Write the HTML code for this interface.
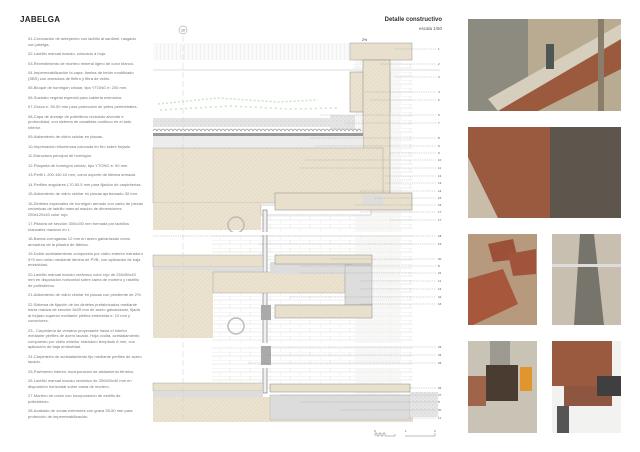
<!DOCTYPE html>
<html><head><meta charset="utf-8"><style>
body{margin:0;background:#fff;}
#p{position:relative;width:640px;height:452px;overflow:hidden;background:#fff;font-family:"Liberation Sans",sans-serif;}
.t{position:absolute;left:28px;top:36px;width:115px;font-size:4px;line-height:5.5px;color:#777;}
.t p{margin:0 0 4px 0;}
.ph{position:absolute;}
</style></head><body><div id="p">
<div style="position:absolute;left:20px;top:15px;font-size:8px;font-weight:bold;letter-spacing:0.3px;color:#222">JABELGA</div>
<div style="position:absolute;right:198px;top:17px;font-size:6px;font-weight:bold;color:#333">Detalle constructivo</div>
<div style="position:absolute;right:198px;top:26px;font-size:4.5px;color:#555">escala 1/50</div>
<div class="t">
<p>01-Coronación de antepecho con ladrillo al sardinel, rasgado con jabelga.</p>
<p>02-Ladrillo manual macizo, colocado a hoja.</p>
<p>03-Revestimiento de mortero mineral ligero de color blanco.</p>
<p>04-Impermeabilización bi-capa: lámina de betún modificado (SBS) con armadura de fieltro y fibra de vidrio.</p>
<p>05-Bloque de hormigón celular, tipo YTONG e: 200 mm.</p>
<p>06-Sustrato vegetal especial para cubierta extensiva.</p>
<p>07-Grava e: 35-50 mm para protección de petos perimetrales.</p>
<p>08-Capa de drenaje de polietileno reciclado alveolar e profundidad, con sistema de canaletas continuo en el lado interior.</p>
<p>09-Aislamiento de vidrio celular en placas.</p>
<p>10-Imprimación bituminosa colocada en frío sobre forjado.</p>
<p>11-Estructura principal de hormigón.</p>
<p>12-Plaqueta de hormigón celular, tipo YTONG e: 50 mm.</p>
<p>13-Perfil L 200.150.10 mm, como soporte de fábrica armada.</p>
<p>14-Perfiles angulares L70.50.5 mm para fijación de carpinterías.</p>
<p>15-Aislamiento de vidrio celular en placas aprisionado 30 mm.</p>
<p>16-Dinteles especiales de hormigón armado con canto de piezas cerámicas de ladrillo manual macizo de dimensiones 250x120x40 color rojo.</p>
<p>17-Pilastra de sección 300x150 mm formada por ladrillos manuales macizos en L.</p>
<p>18-Barras corrugadas 12 mm en acero galvanizado como armadura de la pilastra de fábrica.</p>
<p>19-Doble acristalamiento compuesto por vidrio exterior estradoro 5+5 mm unido mediante lámina de PVB, con aplicación de baja emisividad.</p>
<p>20-Ladrillo manual macizo cerámico color rojo de 250x50x40 mm en disposición horizontal sobre cama de mortero y rastrillo de poliestireno.</p>
<p>21-Aislamiento de vidrio celular en placas con pendiente de 2%.</p>
<p>22-Sistema de fijación de los dinteles prefabricados mediante barra maciza de sección 8x25 mm de acero galvanizado, fijada al forjado superior mediante pletina embebida e: 10 mm y conectores.</p>
<p>23.- Carpintería de ventana proyectante hacia el interior mediante perfiles de acero lacado. Hoja oculta, acristalamiento compuesto por vidrio exterior estradoro templado 6 mm, con aplicación de baja emisividad.</p>
<p>24-Carpintería de acristalamiento fijo mediante perfiles de acero lacado.</p>
<p>25-Pavimento interior, incorporación de aislamiento térmico.</p>
<p>26-Ladrillo manual macizo cerámico de 250x50x40 mm en disposición horizontal sobre cama de mortero.</p>
<p>27-Mortero de unión con incorporación de estrillo de poliestireno.</p>
<p>28-Acabado de zonas exteriores con grava 35-50 mm para protección de impermeabilización.</p>
</div>
<svg style="position:absolute;left:0;top:0" width="640" height="452" viewBox="0 0 640 452">
<defs>
<pattern id="h" width="3" height="3" patternUnits="userSpaceOnUse" patternTransform="rotate(45)"><rect width="3" height="3" fill="#ebe3d0"/><line x1="0" y1="0" x2="0" y2="3" stroke="#d6ccb4" stroke-width="0.6"/></pattern>
<pattern id="br" width="20" height="8" patternUnits="userSpaceOnUse"><rect width="20" height="8" fill="#fff"/><path d="M0 0H20M0 4H20M10 0V4M0 4V8" stroke="#dedede" stroke-width="0.5" fill="none"/></pattern>
<pattern id="bs" width="4" height="10" patternUnits="userSpaceOnUse"><rect width="4" height="10" fill="#fafafa"/><line x1="0" y1="0" x2="0" y2="10" stroke="#ddd" stroke-width="0.6"/></pattern>
<pattern id="gv" width="4" height="4" patternUnits="userSpaceOnUse"><rect width="4" height="4" fill="#e6e6e6"/><circle cx="1" cy="1" r="0.5" fill="#bbb"/><circle cx="3" cy="3" r="0.4" fill="#c8c8c8"/></pattern>
</defs>
<rect x="212" y="210" width="200" height="180" fill="url(#br)"/>
<rect x="353" y="60" width="60" height="335" fill="url(#br)"/>
<rect x="355" y="60" width="45" height="335" fill="#f4f4f2" opacity="0.6"/>
<rect x="153" y="43" width="197" height="17" fill="url(#bs)"/>
<rect x="350" y="43" width="62" height="17" fill="#e8e0cc" stroke="#999" stroke-width="0.5"/>
<line x1="153" y1="70" x2="440" y2="70" stroke="#eee" stroke-width="2"/>
<rect x="350" y="72" width="40" height="40" fill="url(#h)" stroke="#888" stroke-width="0.5"/>
<rect x="363" y="60" width="27" height="135" fill="url(#h)" stroke="#888" stroke-width="0.5"/>
<path d="M158 104l60 -6 60 4 40 -2" stroke="#aed09a" stroke-width="1.5" stroke-dasharray="2 2" fill="none" opacity="0.6"/>
<path d="M160 110l70 -4 60 3 50 -1" stroke="#aed09a" stroke-width="1.5" stroke-dasharray="2 3" fill="none" opacity="0.6"/>
<rect x="153" y="118" width="177" height="9" fill="url(#gv)"/>
<rect x="330" y="115" width="25" height="14" fill="url(#gv)"/>
<path d="M153 131 q2 -4 4 0 q2 -4 4 0 q2 -4 4 0 q2 -4 4 0 q2 -4 4 0 q2 -4 4 0 q2 -4 4 0 q2 -4 4 0 q2 -4 4 0 q2 -4 4 0 q2 -4 4 0 q2 -4 4 0 q2 -4 4 0 q2 -4 4 0 q2 -4 4 0 q2 -4 4 0 q2 -4 4 0 q2 -4 4 0 q2 -4 4 0 q2 -4 4 0 q2 -4 4 0 q2 -4 4 0 q2 -4 4 0 q2 -4 4 0 q2 -4 4 0 q2 -4 4 0 q2 -4 4 0 q2 -4 4 0 q2 -4 4 0 q2 -4 4 0 q2 -4 4 0 q2 -4 4 0 q2 -4 4 0 q2 -4 4 0 q2 -4 4 0 q2 -4 4 0 q2 -4 4 0 q2 -4 4 0 q2 -4 4 0 q2 -4 4 0 q2 -4 4 0 q2 -4 4 0 q2 -4 4 0 q2 -4 4 0 q2 -4 4 0 q2 -4 4 0 q2 -4 4 0 q2 -4 4 0 q2 -4 4 0 q2 -4 4 0 q2 -4 4 0 q2 -4 4 0" stroke="#777" stroke-width="0.6" fill="none"/>
<rect x="153" y="133" width="210" height="3" fill="#999"/>
<rect x="153" y="136" width="210" height="12" fill="#ececec"/>
<rect x="153" y="148" width="230" height="55" fill="url(#h)" stroke="#999" stroke-width="0.4"/>
<rect x="153" y="203" width="108" height="27" fill="url(#h)"/>
<rect x="261" y="205" width="110" height="10" fill="#fff" stroke="#999" stroke-width="0.4"/>
<rect x="275" y="193" width="137" height="17" fill="#e8e0cc" stroke="#888" stroke-width="0.5"/>
<rect x="363" y="195" width="20" height="10" fill="#ddd"/>
<rect x="263" y="210" width="4" height="183" fill="#f0f0f0" stroke="#555" stroke-width="0.5"/>
<circle cx="236" cy="225" r="8" fill="none" stroke="#bbb" stroke-width="1.5"/>
<circle cx="236" cy="326" r="8" fill="none" stroke="#bbb" stroke-width="1.5"/>
<rect x="153" y="255" width="110" height="12" fill="#e8e0cc" stroke="#999" stroke-width="0.4"/>
<rect x="153" y="267" width="110" height="5" fill="#ddd"/>
<rect x="153" y="270" width="60" height="68" fill="url(#h)"/>
<rect x="213" y="272" width="132" height="21" fill="url(#h)" stroke="#999" stroke-width="0.4"/>
<rect x="270" y="262" width="82" height="12" fill="#ddd"/>
<rect x="275" y="255" width="97" height="9" fill="#e8e0cc" stroke="#888" stroke-width="0.5"/>
<rect x="345" y="265" width="27" height="40" fill="#ddd" stroke="#999" stroke-width="0.4"/>
<rect x="275" y="305" width="97" height="13" fill="#e8e0cc" stroke="#888" stroke-width="0.5"/>
<rect x="261" y="345" width="10" height="20" fill="#aaa"/>
<rect x="261" y="305" width="10" height="15" fill="#aaa"/>
<rect x="153" y="383" width="110" height="8" fill="#e8e0cc" stroke="#999" stroke-width="0.4"/>
<rect x="153" y="391" width="110" height="6" fill="#ddd"/>
<rect x="153" y="397" width="260" height="25" fill="url(#h)"/>
<rect x="270" y="384" width="140" height="8" fill="#e8e0cc" stroke="#888" stroke-width="0.5"/>
<rect x="270" y="395" width="140" height="25" fill="#dcdcdc" stroke="#aaa" stroke-width="0.4"/>
<rect x="410" y="392" width="28" height="25" fill="url(#gv)"/>
<rect x="153" y="232" width="288" height="3" fill="#fff"/>
<rect x="153" y="343" width="288" height="3" fill="#fff"/>
<rect x="153" y="365" width="288" height="3" fill="#fff"/>
<line x1="183" y1="36" x2="183" y2="420" stroke="#ccc" stroke-width="0.5" stroke-dasharray="6 3"/>
<circle cx="183" cy="30" r="4" fill="#fff" stroke="#888" stroke-width="0.5"/>
<text x="183" y="31.5" font-size="3.5" text-anchor="middle" fill="#555">10</text>
<text x="362" y="41" font-size="3.5" fill="#333">2%</text>
<g stroke="#888" stroke-width="0.35" stroke-dasharray="1 0.8">
<line x1="395" y1="49" x2="436" y2="49"/><line x1="380" y1="64" x2="436" y2="64"/><line x1="395" y1="77" x2="436" y2="77"/><line x1="365" y1="92" x2="436" y2="92"/><line x1="370" y1="100" x2="436" y2="100"/><line x1="320" y1="115" x2="436" y2="115"/><line x1="345" y1="123" x2="436" y2="123"/><line x1="310" y1="138" x2="436" y2="138"/><line x1="315" y1="146" x2="436" y2="146"/><line x1="390" y1="153" x2="436" y2="153"/><line x1="305" y1="160" x2="436" y2="160"/><line x1="300" y1="168" x2="436" y2="168"/><line x1="385" y1="176" x2="436" y2="176"/><line x1="385" y1="183" x2="436" y2="183"/><line x1="360" y1="191" x2="436" y2="191"/><line x1="375" y1="198" x2="436" y2="198"/><line x1="355" y1="205" x2="436" y2="205"/><line x1="360" y1="212" x2="436" y2="212"/>
<line x1="390" y1="220" x2="436" y2="220"/><line x1="153" y1="236" x2="436" y2="236"/><line x1="258" y1="244" x2="436" y2="244"/><line x1="330" y1="259" x2="436" y2="259"/><line x1="300" y1="266" x2="436" y2="266"/><line x1="300" y1="273" x2="436" y2="273"/><line x1="360" y1="281" x2="436" y2="281"/><line x1="360" y1="289" x2="436" y2="289"/><line x1="290" y1="297" x2="436" y2="297"/><line x1="360" y1="304" x2="436" y2="304"/><line x1="265" y1="347" x2="436" y2="347"/><line x1="265" y1="355" x2="436" y2="355"/><line x1="248" y1="363" x2="436" y2="363"/><line x1="410" y1="388" x2="436" y2="388"/><line x1="280" y1="395" x2="436" y2="395"/><line x1="300" y1="402" x2="436" y2="402"/><line x1="340" y1="410" x2="436" y2="410"/><line x1="410" y1="418" x2="436" y2="418"/>
</g>
<g font-size="3" fill="#555">
<text x="438" y="50">1</text><text x="438" y="65">2</text><text x="438" y="78">3</text><text x="438" y="93">4</text><text x="438" y="101">5</text><text x="438" y="116">6</text><text x="438" y="124">7</text><text x="438" y="139">8</text><text x="438" y="147">9</text><text x="438" y="154">9</text><text x="438" y="161">10</text><text x="438" y="169">11</text><text x="438" y="177">12</text><text x="438" y="184">13</text><text x="438" y="192">14</text><text x="438" y="199">15</text><text x="438" y="206">16</text><text x="438" y="213">17</text>
<text x="438" y="221">17</text><text x="438" y="237">18</text><text x="438" y="245">19</text><text x="438" y="260">20</text><text x="438" y="267">8</text><text x="438" y="274">21</text><text x="438" y="282">11</text><text x="438" y="290">12</text><text x="438" y="298">22</text><text x="438" y="305">16</text><text x="438" y="348">23</text><text x="438" y="356">24</text><text x="438" y="364">25</text><text x="438" y="389">26</text><text x="438" y="396">27</text><text x="438" y="403">8</text><text x="438" y="411">20</text><text x="438" y="419">11</text>
</g>
<path d="M375 436v-3h2v3h2v-3h2v3h2v-3h2v3h10v-2M405 436h30v-3" stroke="#555" stroke-width="0.4" fill="none"/>
<g font-size="3" fill="#555"><text x="374" y="432">0</text><text x="405" y="432">1</text><text x="434" y="432">2</text></g>
</svg>
<svg class="ph" style="left:468px;top:19px" width="153" height="92"><rect width="153" height="92" fill="#b9ab92"/><rect width="60" height="92" fill="#8d8a80"/><polygon points="30,92 153,20 153,50 70,92" fill="#9b5a3e"/><polygon points="20,80 153,5 153,20 30,92" fill="#d7cfbd"/><rect x="130" y="0" width="6" height="92" fill="#8a7d6a"/><rect x="78" y="25" width="8" height="25" fill="#4f5656"/></svg>
<svg class="ph" style="left:468px;top:127px" width="153" height="91"><rect width="153" height="91" fill="#6e6154"/><polygon points="0,0 82,0 82,91 30,91 0,30" fill="#9a5a40"/><polygon points="0,30 30,91 0,91" fill="#c9bda9"/><rect x="82" width="71" height="91" fill="#5e564c"/></svg>
<svg class="ph" style="left:468px;top:234px" width="69" height="91"><rect width="69" height="91" fill="#b79a7e"/><polygon points="0,45 35,35 50,70 5,91 0,91" fill="#a6573c"/><polygon points="20,10 45,5 50,25 25,28" fill="#9c5038"/><polygon points="40,20 68,15 68,40 45,42" fill="#a0543c"/></svg>
<svg class="ph" style="left:552px;top:234px" width="69" height="91"><rect width="69" height="91" fill="#c9bfb1"/><polygon points="28,0 42,0 52,91 22,91" fill="#77746b"/><rect x="0" y="30" width="69" height="3" fill="#ddd"/></svg>
<svg class="ph" style="left:468px;top:341px" width="69" height="92"><rect width="69" height="92" fill="#c9c3b6"/><rect x="22" y="0" width="20" height="30" fill="#9d9a92"/><rect x="18" y="24" width="32" height="36" fill="#4a3c30"/><rect x="52" y="26" width="12" height="24" fill="#e0962c"/><rect x="0" y="35" width="18" height="30" fill="#a0644a"/></svg>
<svg class="ph" style="left:552px;top:341px" width="69" height="92"><rect width="69" height="92" fill="#f2f2f0"/><rect x="0" y="0" width="60" height="45" fill="#9a5a40"/><rect x="12" y="45" width="48" height="20" fill="#8e5640"/><rect x="45" y="35" width="24" height="20" fill="#3f3f3f"/><rect x="5" y="65" width="12" height="27" fill="#555"/></svg>
</div></body></html>
